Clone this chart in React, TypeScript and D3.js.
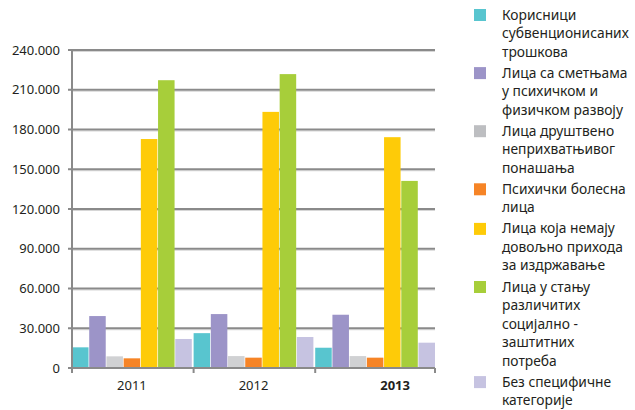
import React from 'react';
import * as d3 from 'd3';

// years on the x axis
const years = ['2011', '2012', '2013'];

// legend / series names (split into lines as in the original)
const seriesNames = [
  ['Корисници', 'субвенционисаних', 'трошкова'],
  ['Лица са сметњама', 'у психичком и', 'физичком развоју'],
  ['Лица друштвено', 'неприхватњивог', 'понашања'],
  ['Психички болесна', 'лица'],
  ['Лица која немају', 'довољно прихода', 'за издржавање'],
  ['Лица у стању', 'различитих', 'социјално -', 'заштитних', 'потреба'],
  ['Без специфичне', 'категорије'],
];

const seriesColors = ['#58c5cf', '#9c94c8', '#d0d1d3', '#f68426', '#fecb08', '#a7ce3a', '#c6c3e1'];
const legendColors = ['#58c5cf', '#9c94c8', '#bdbec1', '#f68426', '#fecb08', '#a7ce3a', '#c6c3e1'];

// values per year, in series order
const values2011 = [15600, 39200, 8800, 7300, 172800, 217200, 21900];
const values2012 = [26300, 40700, 9000, 7800, 193300, 221800, 23400];
const values2013 = [15300, 40200, 9000, 7800, 174200, 141200, 19100];
const valuesByYear = [values2011, values2012, values2013];

const yTicks = [0, 30000, 60000, 90000, 120000, 150000, 180000, 210000, 240000];

const width = 635;
const height = 410;
const margin = { left: 72, right: 200, top: 50, bottom: 42 };

const fmt = (v: number) => (v === 0 ? '0' : d3.format(',')(v).replace(/,/g, '.'));

export default function App() {
  const x0 = d3.scaleBand().domain(years).range([margin.left, width - margin.right]).paddingInner(0.015);
  const x1 = d3
    .scaleBand()
    .domain(d3.range(seriesNames.length).map(String))
    .range([0, x0.bandwidth()])
    .paddingInner(0.04);
  const y = d3.scaleLinear().domain([0, 240000]).range([height - margin.bottom, margin.top]);

  const xEnd = width - margin.right;
  const font = '"Noto Sans", "Open Sans", sans-serif';
  const lineH = 18.5;

  let cursor = 15;
  const legendItems = seriesNames.map((lines, i) => {
    const top = cursor;
    cursor += lines.length * lineH + 2.6;
    return { lines, top, color: legendColors[i] };
  });

  return (
    <div style={{ position: 'absolute', left: 0, top: 0 }}>
      <svg width={width} height={height} style={{ display: 'block', background: '#fff' }}>
        {/* grid lines */}
        {yTicks.slice(1).map(t => (
          <g key={t}>
            <line x1={margin.left} x2={xEnd} y1={y(t) + 1.5} y2={y(t) + 1.5} stroke="#d6d6d6" strokeWidth={1} />
            <line x1={margin.left} x2={xEnd} y1={y(t)} y2={y(t)} stroke="#8a8a8a" strokeWidth={2} />
          </g>
        ))}

        {/* bars */}
        {years.map((yr, gi) => (
          <g key={yr} transform={`translate(${x0(yr)},0)`}>
            {valuesByYear[gi].map((v, si) => (
              <rect
                key={si}
                x={x1(String(si))}
                y={y(v)}
                width={x1.bandwidth()}
                height={y(0) - y(v)}
                fill={seriesColors[si]}
              />
            ))}
          </g>
        ))}

        {/* y axis */}
        <line x1={margin.left} x2={margin.left} y1={y(240000) - 1} y2={y(0)} stroke="#8a8a8a" strokeWidth={2} />
        {yTicks.map(t => (
          <g key={t}>
            <line x1={margin.left - 4} x2={margin.left} y1={y(t)} y2={y(t)} stroke="#8a8a8a" strokeWidth={2} />
            <text x={60} y={y(t)} dy="0.35em" textAnchor="end" fontFamily={font} fontSize={13} fill="#231f20">
              {fmt(t)}
            </text>
          </g>
        ))}

        {/* x axis */}
        <line x1={margin.left - 4} x2={xEnd} y1={y(0)} y2={y(0)} stroke="#8a8a8a" strokeWidth={2} />
        {[...years.map(yr => x0(yr) as number), xEnd].map((xx, i) => (
          <line key={i} x1={xx} x2={xx} y1={y(0)} y2={y(0) + 5} stroke="#8a8a8a" strokeWidth={2} />
        ))}
        {years.map((yr, i) => (
          <text
            key={yr}
            x={(x0(yr) as number) + x0.bandwidth() / 2 + (i === 2 ? 20 : 0)}
            y={y(0) + 22}
            textAnchor="middle"
            fontFamily={font}
            fontSize={13}
            fontWeight={i === 2 ? 'bold' : 'normal'}
            fill="#231f20"
          >
            {yr}
          </text>
        ))}

        {/* legend */}
        {legendItems.map((it, i) => (
          <g key={i}>
            <rect x={474} y={it.top - 6} width={12} height={12} fill={it.color} />
            {it.lines.map((ln, j) => (
              <text key={j} x={502} y={it.top + j * lineH} dy="0.33em" fontFamily={font} fontSize={13.8} fill="#231f20">
                {ln}
              </text>
            ))}
          </g>
        ))}
      </svg>
    </div>
  );
}
